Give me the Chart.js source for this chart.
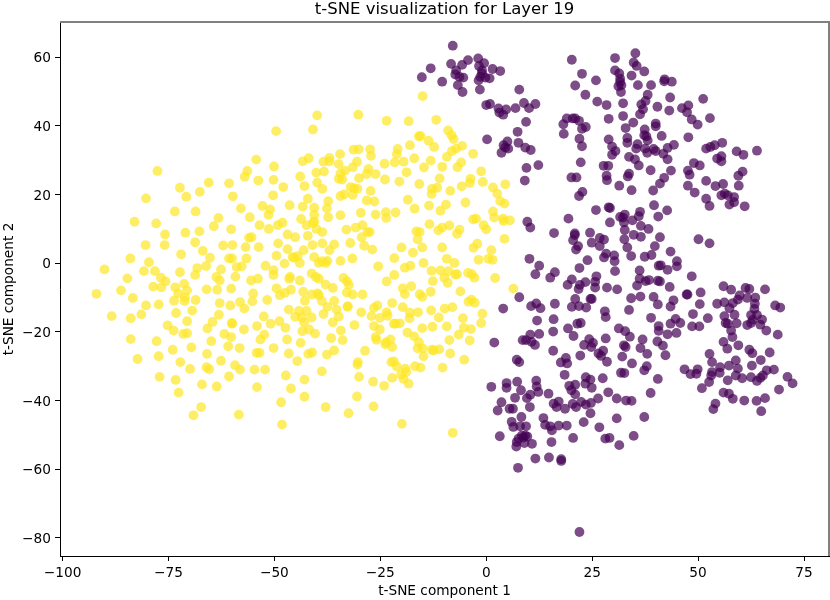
<!DOCTYPE html>
<html><head><meta charset="utf-8">
<style>html,body{margin:0;padding:0;background:#fff}canvas{display:block}</style>
<script src="https://cdn.jsdelivr.net/npm/chart.js@4"></script>
</head><body><canvas id="c" width="830" height="600"></canvas>
<script>
const chartTitle = "t-SNE visualization for Layer 19";
const xLabel = "t-SNE component 1";
const yLabel = "t-SNE component 2";
const xTicks = [-100,-75,-50,-25,0,25,50,75];
const yTicks = [-80,-60,-40,-20,0,20,40,60];
const yellowPoints = [
[-49.6,38.5],[-54.3,30.2],[-50.1,28.2],[-77.6,26.9],[-56.4,26.9],[-57.0,25.2],[-53.8,24.1],[-50.2,24.3],[-65.5,23.5],[-60.7,23.3],[-47.9,22.2],[-72.3,22.0],[-67.6,20.8],[-70.8,19.4],[-59.8,19.5],[-50.3,19.8],[-80.3,18.9],[-52.8,16.7],[-46.4,16.9],[-57.9,16.0],[-51.0,15.7],[-73.5,15.1],[-68.6,15.1],[-51.4,14.1],[-63.2,13.2],[-55.8,13.4],[-83.0,12.1],[-77.9,11.6],[-48.1,11.8],[-49.2,11.1],[-53.5,11.1],[-64.3,10.8],[-60.2,9.9],[-51.3,10.0],[-67.7,9.3],[-71.0,8.9],[-75.8,8.4],[-46.9,8.4],[-56.0,7.4],[-55.4,7.6],[-68.7,6.1],[-80.4,5.3],[-75.9,5.3],[-62.1,5.2],[-59.9,5.3],[-49.1,5.8],[-56.8,4.7],[-53.7,4.7],[-46.9,4.1],[-66.9,3.6],[-72.0,2.6],[-49.5,2.2],[-65.2,1.6],[-84.0,1.4],[-79.6,0.3],[-60.7,1.4],[-60.0,1.4],[-56.6,1.4],[-45.7,1.8],
[-90.1,-1.8],[-80.8,-2.3],[-78.2,-2.3],[-72.3,-2.6],[-68.2,-1.4],[-66.1,-0.8],[-68.7,-3.4],[-62.6,-1.8],[-63.7,-4.0],[-62.9,-5.0],[-59.2,-3.9],[-58.9,-1.1],[-57.7,-0.9],[-52.1,-0.7],[-50.2,-2.0],[-50.2,-3.4],[-47.6,-0.1],[-55.5,-5.0],[-53.9,-4.5],[-46.5,-4.5],[-84.7,-4.4],[-76.8,-4.2],[-75.7,-5.3],[-78.6,-6.8],[-76.7,-7.0],[-73.4,-7.0],[-71.3,-6.0],[-70.6,-7.9],[-66.0,-7.6],[-63.5,-7.7],[-60.2,-7.4],[-49.5,-7.3],[-86.2,-7.9],[-92.0,-8.9],[-72.7,-8.8],[-55.0,-8.8],[-48.7,-9.3],[-47.5,-8.6],[-46.1,-7.7],[-83.4,-10.1],[-71.1,-10.0],[-73.7,-10.9],[-71.2,-11.0],[-68.6,-10.7],[-51.7,-10.7],[-55.2,-11.1],[-58.1,-11.3],[-62.9,-11.6],[-60.4,-12.3],[-80.3,-12.3],[-77.3,-12.0],[-57.1,-13.2],[-46.6,-13.5],[-69.4,-13.8],[-73.2,-14.5],[-81.4,-14.9],[-63.1,-15.0],[-88.4,-15.4],[-83.9,-16.0],[-52.5,-15.5],[-70.6,-16.9],[-64.6,-17.1],[-60.0,-17.4],[-60.0,-17.6],[-50.9,-17.6],[-48.8,-16.9],[-54.1,-18.3],[-75.2,-18.1],[-65.8,-19.0],[-47.4,-18.8],[-73.8,-19.6],[-57.2,-19.3],[-71.5,-20.6],[-70.6,-20.4],[-61.8,-20.6],[-60.2,-21.5],[-52.4,-20.8],[-53.3,-22.2],[-83.9,-22.1],[-47.0,-22.2],[-77.8,-22.7],[-64.9,-22.7],[-69.6,-24.5],[-60.9,-24.2],[-58.2,-24.7],[-50.2,-24.7],[-74.0,-25.2],[-65.9,-26.4],[-54.2,-26.1],[-53.5,-26.1],[-46.6,-26.3],[-77.3,-27.1],[-82.3,-27.9],[-62.6,-28.4],[-72.2,-28.8],[-59.3,-29.7],[-66.0,-30.3],[-65.4,-30.9],[-69.9,-30.8],[-58.1,-31.0],[-54.7,-31.0],[-52.2,-31.0],[-60.7,-33.0],[-47.3,-32.7],[-77.1,-33.1],[-73.3,-34.0],[-67.1,-35.3],[-63.6,-35.9],[-54.1,-36.1],[-46.1,-36.5],[-72.6,-37.7],[-48.4,-40.5],[-67.3,-41.9],[-69.1,-44.3],[-58.4,-44.1],[-48.2,-47.0],
[-15.0,48.7],[-39.9,43.1],[-30.2,43.3],[-23.5,41.5],[-18.3,41.4],[-11.8,41.8],[-40.9,39.0],[-9.0,38.7],[-15.9,37.0],[-15.5,37.1],[-8.2,37.3],[-7.7,36.2],[-13.6,35.7],[-18.0,34.4],[-12.3,33.9],[-5.7,34.2],[-31.3,33.1],[-30.1,33.2],[-27.4,33.2],[-20.9,33.3],[-34.5,31.8],[-21.1,31.8],[-27.2,31.3],[-7.1,33.4],[-8.1,32.7],[-3.1,31.9],[-9.3,31.0],[-41.9,30.6],[-43.3,29.7],[-37.0,30.7],[-38.4,29.6],[-37.0,29.7],[-17.0,30.6],[-30.5,29.6],[-34.8,28.9],[-24.0,29.0],[-21.6,29.4],[-19.5,29.6],[-13.1,29.9],[-5.9,29.4],[-6.8,28.0],[-10.4,28.1],[-14.7,27.9],[-31.5,28.0],[-27.8,27.5],[-33.3,27.0],[-38.3,26.7],[-40.1,26.4],[-34.4,26.2],[-28.2,26.0],[-26.1,26.0],[-18.8,26.5],[-1.2,26.8],[-43.9,25.3],[-34.8,24.6],[-34.0,24.4],[-30.0,24.8],[-23.9,24.4],[-20.5,23.8],[-11.0,24.7],[-3.7,24.6],[-3.9,23.4],[-0.8,23.7],[-39.9,23.5],[-15.8,23.1],[4.5,23.0],[-5.8,22.4],[-42.9,22.5],[1.6,22.1],[-38.7,21.7],[-32.0,22.2],[-31.2,21.9],[-30.4,21.7],[-12.8,21.7],[-11.6,22.0],[-12.9,20.2],[-8.5,21.1],[-27.3,21.1],[2.6,20.3],[-34.4,19.6],[-33.5,20.1],[-31.5,19.9],[-42.1,18.8],[-37.3,18.1],[-28.2,18.3],[-26.4,18.0],[-18.5,18.5],[-4.9,17.7],[3.3,18.1],[4.3,17.4],[-43.3,16.5],[-40.6,16.2],[-37.6,16.0],[-13.5,16.8],[-9.5,17.1],[-16.9,15.9],[-10.8,15.3],[1.6,15.1],[-29.6,14.7],[-23.7,14.9],[-21.4,14.8],[-26.1,14.2],[-34.4,14.0],[-40.6,14.1],[-37.3,13.4],[-23.6,13.2],[1.9,13.3],[-43.7,12.9],[-40.6,12.2],[-40.9,11.7],[4.0,13.0],[4.1,12.3],[5.6,12.5],[-3.1,12.8],[-2.4,13.0],[-13.4,11.4],[-42.4,11.1],[-29.2,11.1],[-8.7,11.0],[-0.6,11.1],[-40.1,10.0],[-30.8,10.4],[-33.0,9.8],[-10.4,10.4],[-11.3,9.6],[-6.3,9.8],[0.0,9.9],[-38.7,9.1],[-28.0,9.1],[-27.5,9.1],[-16.5,9.3],[-15.7,9.1],[-6.9,8.6],[-42.1,8.0],[-29.4,7.6],[-45.1,7.6],[-16.2,7.0],[4.3,7.1],[-32.1,5.9],[-38.7,5.8],[-35.9,5.5],[-41.0,5.3],[-28.8,5.1],[-20.0,4.6],[-15.1,4.6],[-10.4,4.6],[-2.1,5.7],[-3.0,4.5],[-43.1,3.8],[-37.0,3.8],[-26.9,4.0],[1.2,3.8],[-17.3,3.1],[-44.5,2.1],[-45.3,1.6],[-40.6,1.8],[-21.7,1.5],[-31.6,1.4],[-34.4,0.7],[-37.5,0.7],[-38.7,0.6],[-9.3,1.3],[-1.8,1.0],[0.5,1.3],[1.5,1.0],
[-44.0,0.1],[-39.5,0.1],[-37.9,0.1],[-25.5,-0.9],[-19.2,-1.3],[-17.9,-0.7],[-14.8,0.1],[-7.5,0.1],[-41.2,-3.0],[-40.2,-4.0],[-39.5,-4.5],[-46.3,-4.0],[-44.0,-5.0],[-33.7,-4.3],[-32.9,-5.2],[-32.4,-6.3],[-21.7,-3.4],[-23.5,-5.3],[-12.9,-2.2],[-10.8,-2.1],[-8.9,-2.3],[-9.9,-4.2],[-12.6,-5.2],[-9.1,-5.7],[-7.3,-3.3],[-6.9,-3.2],[-4.3,-2.8],[-3.4,-3.2],[-2.8,-4.2],[2.1,-4.3],[-37.9,-6.2],[-36.2,-7.2],[-43.2,-8.3],[-19.7,-7.3],[-17.7,-6.7],[-32.9,-8.5],[-31.5,-9.1],[-29.2,-9.1],[-19.2,-9.0],[-15.7,-9.0],[-15.1,-9.8],[-13.1,-8.3],[-6.1,-8.2],[6.4,-7.4],[-41.2,-9.1],[-39.8,-8.8],[-39.5,-9.3],[-38.8,-11.0],[-42.8,-10.9],[-35.9,-11.0],[-37.5,-12.7],[-35.3,-13.5],[-32.7,-12.5],[-32.7,-12.7],[-22.2,-11.6],[-25.7,-12.3],[-26.5,-13.0],[-19.7,-12.8],[-4.2,-11.2],[-3.5,-10.6],[-2.7,-11.5],[-13.0,-13.7],[-9.8,-13.2],[-8.0,-12.8],[-16.1,-14.3],[-18.0,-14.4],[-0.9,-14.7],[-44.2,-13.9],[-42.4,-13.9],[-38.4,-14.8],[-29.5,-14.3],[-23.5,-14.3],[-27.1,-15.4],[-25.1,-15.9],[-23.3,-15.3],[-18.1,-16.0],[-11.2,-15.8],[-45.1,-15.6],[-43.5,-15.8],[-41.2,-15.8],[-34.8,-15.5],[-43.0,-17.2],[-36.2,-17.2],[-5.5,-16.0],[-1.2,-17.4],[-21.8,-17.6],[-21.4,-17.6],[-20.4,-17.5],[-31.1,-18.0],[-26.5,-18.3],[-25.1,-19.3],[-15.1,-18.9],[-12.7,-18.5],[-9.3,-18.4],[-5.3,-18.8],[-3.6,-19.2],[-43.4,-19.8],[-41.8,-19.3],[-40.4,-20.5],[-34.3,-19.6],[-18.6,-20.2],[-17.0,-21.3],[-6.5,-20.8],[-36.6,-21.8],[-33.9,-22.4],[-26.1,-21.5],[-25.9,-22.3],[-22.6,-22.2],[-23.6,-23.0],[-23.8,-23.6],[-15.9,-23.0],[-8.7,-22.4],[-3.9,-22.5],[-43.8,-23.2],[-22.2,-24.4],[-16.2,-24.8],[-15.0,-24.8],[-12.8,-25.2],[-12.4,-25.4],[-11.1,-25.1],[-35.9,-25.4],[-28.6,-25.5],[-41.1,-26.0],[-42.0,-26.4],[-37.6,-26.6],[-8.5,-26.3],[-14.8,-27.1],[-44.6,-28.5],[-5.2,-28.1],[-30.3,-28.8],[-30.4,-29.5],[-22.4,-28.8],[-21.8,-28.6],[-21.1,-30.1],[-16.8,-30.0],[-15.5,-30.4],[-10.3,-30.4],[-19.1,-30.7],[-18.9,-31.7],[-20.1,-32.4],[-38.8,-31.5],[-30.0,-33.1],[-42.9,-33.9],[-22.2,-33.4],[-19.5,-33.7],[-26.7,-34.5],[-24.1,-35.7],[-18.3,-35.1],[-42.9,-38.9],[-30.5,-38.8],[-37.9,-41.9],[-26.6,-41.7],[-32.5,-43.7],[-19.9,-46.8],[-7.9,-49.4]
];
const purplePoints = [
[-7.9,63.4],[-13.1,56.8],[-15.2,54.2],[-10.4,52.9],[-8.3,58.1],[-5.7,57.8],[-4.3,59.2],[-1.9,59.7],[-0.5,58.3],[-1.7,57.5],[-7.1,56.2],[-7.3,55.0],[-6.3,54.3],[-5.4,54.1],[-6.7,51.9],[-5.6,49.9],[1.5,56.6],[3.3,56.0],[-1.0,56.2],[-1.0,55.3],[-1.4,54.3],[-1.8,53.3],[-0.2,54.1],[0.8,53.9],[-1.5,50.6],[7.8,50.6],[0,46.1],[0.9,46.4],[2.9,45.1],[3.1,43.9],[4.0,43.3],[4.7,44.8],[6.9,45.2],[8.9,46.7],[10.1,45.2],[11.6,46.4],[9.4,41.2],[7.4,38.3],[0.2,36.1],[5.0,35.5],[4.1,34.4],[4.5,33.7],[5.2,33.4],[3.6,32.2],[7.6,35.1],[9.2,33.7],[10.5,33.0],[9.5,27.8],[12.3,28.6],[9.1,24.1],[20.2,59.3],[22.6,55.2],[25.9,53.3],[21.0,51.8],[23.4,49.1],[26.2,47.1],[28.4,46.1],[19.0,42.2],[20.4,42.2],[21.0,42.2],[21.9,41.5],[18.2,40.5],[18.3,37.7],[22.6,39.2],[23.5,39.7],[22.0,36.3],[22.6,34.1],[28.9,42.1],[28.9,36.1],[29.7,34.0],[30.5,32.7],[29.7,31.6],[22.3,29.4],[27.7,28.4],[28.8,28.4],[20.1,25.0],[21.3,25.0],[28.4,25.5],[28.5,24.2],[22.7,20.8],[21.9,19.6],
[35.2,61.2],[30.4,59.8],[34.8,58.5],[35.5,57.5],[30.4,56.2],[37.3,55.9],[34.3,54.7],[31.4,55.3],[31.6,53.8],[31.6,52.8],[31.9,51.9],[31.2,51.6],[31.8,49.9],[35.8,51.9],[38.9,51.9],[42.1,53.6],[42.0,53.0],[43.8,52.9],[38.1,49.1],[43.4,48.3],[51.2,47.9],[37.6,47.3],[36.6,46.3],[37.0,44.9],[36.3,43.4],[32.3,46.6],[40.4,45.6],[43.2,44.5],[46.2,45.2],[47.7,46.0],[47.4,44.0],[32.3,42.9],[48.5,41.9],[49.9,40.4],[52.8,42.3],[34.7,41.0],[32.9,39.4],[40.0,40.7],[40.0,39.9],[37.4,39.0],[37.3,37.3],[37.8,37.0],[38.1,35.8],[41.4,37.1],[47.7,36.7],[33.3,36.5],[33.3,35.1],[35.7,34.7],[35.4,33.4],[37.5,33.4],[38.0,32.2],[39.5,33.3],[40.0,32.7],[41.8,31.9],[42.8,33.6],[44.3,34.5],[42.8,30.3],[51.9,33.4],[52.9,33.9],[53.9,34.4],[55.7,35.1],[59.1,32.6],[60.7,31.6],[63.9,32.8],[33.7,31.0],[35.1,30.3],[36.0,28.5],[55.5,31.2],[54.5,30.5],[55.5,29.7],[49.0,29.2],[50.4,28.5],[38.8,27.1],[43.6,27.0],[33.7,26.1],[33.4,25.3],[47.6,27.0],[48.0,25.8],[60.5,26.7],[59.5,25.5],[42.0,24.9],[41.0,23.2],[51.9,24.0],[31.4,22.6],[34.3,21.3],[39.4,21.2],[47.6,22.6],[54.1,22.5],[55.9,23.1],[59.6,22.6],[49.2,20.6],[55.5,19.8],[56.3,20.3],[57.0,19.8],[58.5,19.3],[58.5,17.8],[57.4,17.1],[51.9,18.8],[52.7,16.7],[61.0,16.6],[39.6,16.9],[42.7,15.4],[29.2,16.1],[36.3,15.0],[36.0,13.7],[32.7,14.2],[31.6,13.5],[32.3,13.3],[40.6,13.6],[34.5,12.5],
[25.9,15.5],[28.9,16.3],[19.4,13.0],[9.7,12.1],[10.4,10.4],[29.2,11.9],[32.5,11.9],[36.5,10.9],[32.7,9.7],[38.3,10.0],[34.8,8.3],[36.5,7.7],[16.0,8.8],[20.9,8.7],[20.9,8.2],[20.5,6.7],[24.5,8.9],[26.8,7.4],[27.8,6.9],[24.9,6.0],[26.8,5.0],[32.6,7.0],[33.3,4.6],[21.7,5.0],[21.2,4.0],[39.8,5.0],[28.3,2.8],[30.2,2.3],[27.8,1.7],[30.3,0.6],[34.2,2.1],[37.4,1.9],[39.0,2.4],[10.2,1.3],[23.9,0.9],[12.5,-0.7],[22.0,-1.4],[30.4,-2.3],[11.6,-3.2],[16.2,-2.6],[15.1,-4.2],[36.2,-2.1],[40.7,-0.7],[26.0,-3.8],[20.2,-4.7],[19.2,-6.3],[23.4,-5.5],[22.1,-6.3],[21.8,-7.5],[25.7,-5.4],[25.7,-7.1],[36.2,-4.5],[37.6,-5.2],[38.4,-4.9],[35.6,-6.5],[40.5,-5.1],[28.5,-7.1],[30.9,-7.6],[7.8,-9.9],[21.0,-10.4],[24.9,-10.4],[24.6,-10.4],[34.2,-10.2],[36.4,-9.7],[39.5,-9.8],[40.5,-12.0],[4.0,-13.2],[10.6,-12.5],[11.8,-11.7],[12.8,-13.1],[16.2,-11.8],[20.2,-12.7],[21.9,-12.5],[23.6,-12.9],[33.7,-13.6],[28.0,-14.0],[28.2,-15.7],[12.0,-16.7],[15.9,-16.3],[38.9,-15.9],[21.5,-17.6],[22.3,-17.4],[40.7,-18.3],[40.7,-19.7],[19.3,-19.0],[31.3,-19.0],[32.8,-19.8],[15.8,-19.9],[12.5,-20.6],[10.4,-20.8],[20.6,-21.2],[33.9,-21.4],[8.6,-22.4],[9.4,-22.4],[10.7,-22.9],[11.5,-23.8],[28.2,-21.9],[36.9,-22.2],[40.4,-22.8],[1.9,-23.1],[24.3,-22.1],[25.2,-23.2],[23.1,-23.8],[24.8,-24.4],[32.5,-23.9],[32.9,-24.4],[36.4,-24.7],[15.8,-25.5],[27.6,-25.5],[26.5,-26.3],[27.1,-27.0],[38.0,-26.4],[22.2,-26.9],[32.1,-27.2],[18.8,-27.6],[17.6,-28.9],[19.1,-29.2],[7.2,-28.1],[7.8,-28.8],[28.5,-28.7],[34.4,-29.2],[37.9,-30.0],
[18.5,-32.5],[27.5,-33.5],[31.8,-31.9],[32.6,-32.0],[37.3,-31.2],[40.5,-33.7],[1.2,-36.0],[4.8,-34.9],[4.8,-36.3],[7.3,-34.5],[8.2,-37.0],[11.8,-34.2],[11.9,-35.9],[12.3,-37.5],[10.4,-38.3],[9.6,-39.3],[6.8,-39.2],[14.7,-38.0],[23.5,-33.2],[24.6,-33.9],[23.4,-35.1],[24.9,-36.3],[19.6,-35.7],[21.0,-35.4],[20.1,-37.0],[21.0,-38.2],[28.8,-37.6],[38.8,-37.8],[3.6,-40.5],[30.8,-39.4],[33.0,-40.0],[34.3,-40.1],[26.4,-39.4],[15.9,-40.9],[17.1,-40.3],[16.6,-41.9],[18.6,-42.4],[20.4,-41.0],[21.2,-41.9],[22.4,-40.4],[23.5,-41.2],[24.7,-40.7],[10.3,-41.9],[5.5,-42.4],[6.3,-42.4],[2.7,-42.9],[24.6,-43.7],[8.3,-44.8],[13.5,-45.1],[6.0,-46.2],[6.4,-47.7],[13.9,-47.1],[15.1,-47.5],[15.5,-48.7],[17.1,-47.3],[19.0,-47.3],[23.0,-46.3],[30.8,-45.2],[37.3,-44.8],[26.7,-47.8],[8.0,-47.5],[9.4,-47.5],[3.2,-50.4],[8.4,-50.2],[9.2,-50.2],[9.7,-50.5],[7.6,-51.1],[8.8,-50.8],[7.2,-52.1],[7.1,-53.4],[9.0,-52.4],[10.8,-52.6],[15.4,-52.1],[20.5,-50.9],[28.1,-51.1],[29.1,-50.9],[34.8,-50.3],[31.4,-53.0],[11.6,-56.9],[14.8,-56.6],[17.7,-57.1],[17.7,-57.6],[7.5,-59.6],[22.0,-78.3],
[41.0,7.6],[50.1,7.0],[52.7,5.8],[43.5,3.4],[45.0,0.6],[45.0,-0.9],[41.2,-0.6],[42.8,-1.9],[48.5,-3.8],[41.0,-5.3],[43.3,-6.9],[56.0,-6.7],[57.8,-7.7],[61.2,-7.2],[62.1,-7.5],[65.8,-7.6],[47.5,-9.1],[47.3,-9.1],[50.6,-8.5],[44.2,-10.8],[43.5,-12.6],[59.8,-9.4],[59.4,-10.6],[61.6,-10.1],[63.5,-10.0],[63.4,-11.8],[63.3,-13.3],[54.5,-11.8],[56.2,-11.4],[58.2,-11.6],[57.4,-13.1],[50.4,-11.9],[68.2,-12.3],[69.4,-12.9],[58.6,-15.0],[56.2,-15.4],[48.8,-14.8],[52.3,-16.0],[44.7,-16.2],[43.5,-17.6],[45.8,-17.4],[62.5,-15.1],[63.9,-15.1],[62.9,-16.5],[62.5,-17.4],[65.1,-16.4],[64.7,-17.9],[61.6,-18.0],[59.1,-17.5],[56.5,-17.4],[57.0,-17.6],[48.6,-18.4],[50.3,-18.4],[66.1,-19.6],[57.8,-19.6],[58.1,-21.5],[42.8,-20.7],[44.9,-20.3],[68.8,-20.8],[41.7,-24.0],[56.0,-22.9],[56.9,-24.9],[59.5,-23.9],[42.3,-26.8],[62.1,-25.2],[62.8,-26.2],[66.9,-26.0],[52.7,-26.4],[53.3,-28.8],[58.9,-28.3],[64.8,-28.2],[62.7,-29.8],[57.3,-29.8],[55.2,-30.3],[59.4,-30.7],[46.8,-30.9],[48.2,-32.3],[49.6,-32.2],[49.9,-30.9],[53.3,-31.7],[53.1,-32.7],[55.1,-31.9],[66.2,-31.2],[67.9,-31.0],[52.6,-34.6],[57.0,-34.1],[58.9,-32.7],[60.4,-33.5],[62.5,-33.2],[64.7,-33.4],[63.9,-34.3],[65.3,-32.7],[71.1,-33.1],[72.3,-35.0],[50.9,-36.4],[69.1,-36.8],[56.0,-37.7],[57.3,-38.0],[58.2,-39.5],[60.9,-40.0],[63.8,-40.1],[65.8,-39.3],[54.1,-40.9],[53.6,-42.5],[64.9,-43.1]
];
const toXY = p => ({x:p[0], y:p[1]});
const font = {family:"'DejaVu Sans'", size:13.7};
const frame = {id:'frame',
  beforeDraw(c){c.scales.y.getLabelItems().forEach(i=>{i.options.translation=[i.options.translation[0],i.options.translation[1]+1.5];});},
  afterDraw(c){const a=c.chartArea,g=c.ctx;g.save();g.fillStyle='#808080';g.fillRect(a.left,a.top-1,a.width+1,2);g.fillRect(a.right-1,a.top-1,2,a.height+1);g.restore();}};
function axis(min,max,ticks,label,size,key){
  return {type:'linear',min,max,
    afterBuildTicks(s){s.ticks=ticks.map(v=>({value:v}));},
    afterFit(s){s[key]=size;s.paddingLeft=0;s.paddingRight=0;s.paddingTop=0;s.paddingBottom=0;},
    border:{color:'#000',width:1},
    grid:{drawOnChartArea:false,drawTicks:true,color:'#000',tickLength:5,tickWidth:1},
    ticks:{color:'#000',font,padding:4,maxRotation:0,autoSkip:false,callback:v=>String(v).replace('-','\u2212')},
    title:{display:true,text:label,color:'#000',font,padding:{top:1,bottom:0}}
  };
}
new Chart(document.getElementById('c'),{
  type:'scatter',
  data:{datasets:[
    {label:'0',data:purplePoints.map(toXY),backgroundColor:'rgba(68,1,84,0.7)',borderWidth:0,pointRadius:4.9},
    {label:'1',data:yellowPoints.map(toXY),backgroundColor:'rgba(253,231,37,0.7)',borderWidth:0,pointRadius:4.9}
  ]},
  options:{responsive:false,animation:false,devicePixelRatio:1,
    layout:{autoPadding:false,padding:{left:0,right:1,top:0,bottom:0}},
    plugins:{legend:{display:false},tooltip:{enabled:false},
      title:{display:true,fullSize:false,text:chartTitle,color:'#000',font:{family:"'DejaVu Sans'",size:16.5,weight:'normal'},padding:{top:0,bottom:2.2}}},
    scales:{
      x:axis(-100.6,80.9,xTicks,xLabel,44,'height'),
      y:axis(-85.3,70.3,yTicks,yLabel,60,'width')
    }
  },
  plugins:[frame]
});
</script></body></html>
